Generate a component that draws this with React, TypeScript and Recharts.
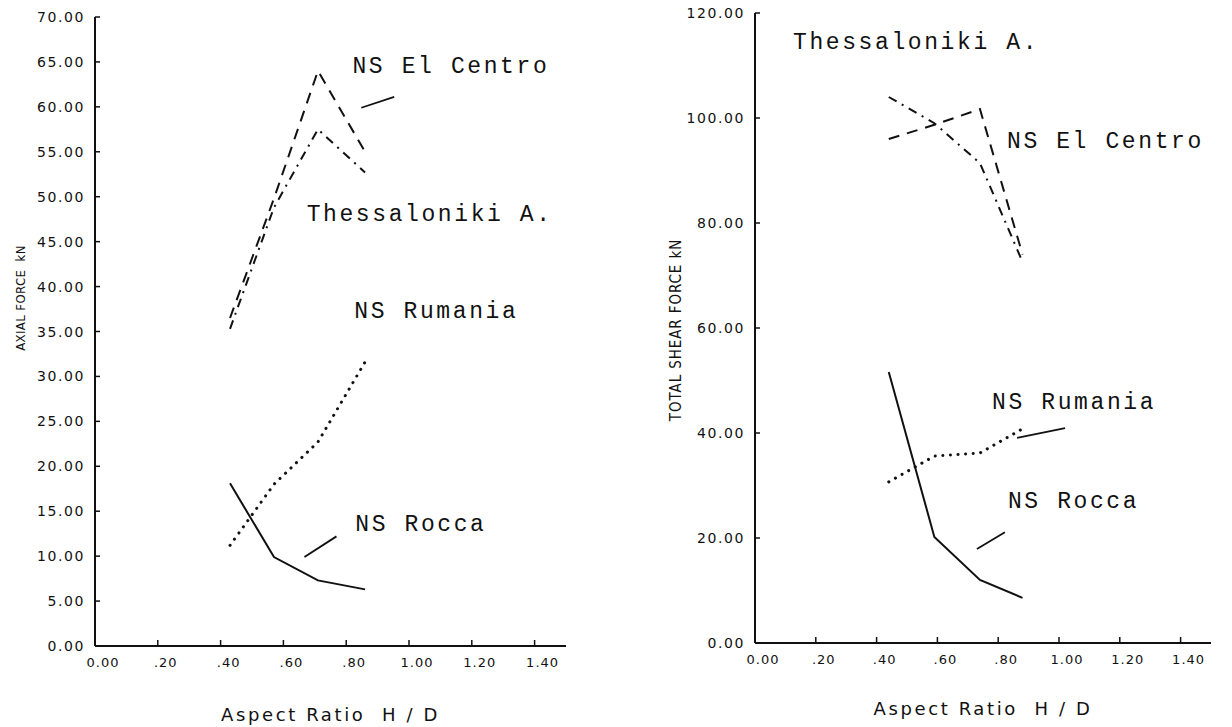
import React from 'react';
import { LineChart, Line, XAxis, YAxis, ReferenceLine, ReferenceDot } from 'recharts';

// ---------- data ----------
const leftX = [0.43, 0.57, 0.71, 0.86];
const leftElCentro = [36.5, 49.8, 64.0, 55.0];
const leftThess = [35.3, 48.8, 57.5, 52.7];
const leftRumania = [11.2, 18.0, 22.7, 31.6];
const leftRocca = [18.1, 9.9, 7.3, 6.3];

const rightX = [0.44, 0.59, 0.74, 0.88];
const rightElCentro = [96.0, 98.7, 101.7, 74.0];
const rightThess = [104.0, 99.0, 91.4, 72.6];
const rightRumania = [30.7, 35.6, 36.2, 40.8];
const rightRocca = [51.6, 20.2, 12.0, 8.6];

const xTicks = [0, 0.2, 0.4, 0.6, 0.8, 1.0, 1.2, 1.4];
const xTickLabels = ['0.00', '.20', '.40', '.60', '.80', '1.00', '1.20', '1.40'];
const leftYTicks = [0, 5, 10, 15, 20, 25, 30, 35, 40, 45, 50, 55, 60, 65, 70];
const leftYTickLabels = ['0.00', '5.00', '10.00', '15.00', '20.00', '25.00', '30.00', '35.00', '40.00', '45.00', '50.00', '55.00', '60.00', '65.00', '70.00'];
const rightYTicks = [0, 20, 40, 60, 80, 100, 120];
const rightYTickLabels = ['0.00', '20.00', '40.00', '60.00', '80.00', '100.00', '120.00'];

const xTitle = 'Aspect Ratio  H / D';
const leftYTitle = 'AXIAL FORCE  kN';
const rightYTitle = 'TOTAL SHEAR FORCE kN';

const leftNotes = [
  { text: 'NS El Centro', x: 0.82, y: 64.4 },
  { text: 'Thessaloniki A.', x: 0.674, y: 48.0 },
  { text: 'NS Rumania', x: 0.826, y: 37.2 },
  { text: 'NS Rocca', x: 0.829, y: 13.5 },
];
const leftLeaders = [
  [{ x: 0.848, y: 59.9 }, { x: 0.953, y: 61.1 }],
  [{ x: 0.667, y: 9.9 }, { x: 0.769, y: 12.2 }],
];
const rightNotes = [
  { text: 'Thessaloniki A.', x: 0.125, y: 114.3 },
  { text: 'NS El Centro', x: 0.829, y: 95.4 },
  { text: 'NS Rumania', x: 0.78, y: 45.7 },
  { text: 'NS Rocca', x: 0.832, y: 26.9 },
];
const rightLeaders = [
  [{ x: 0.862, y: 39.05 }, { x: 1.02, y: 40.95 }],
  [{ x: 0.73, y: 17.9 }, { x: 0.822, y: 21.1 }],
];

const buildRows = (xs: number[], a: number[], b: number[], c: number[], d: number[]) =>
  xs.map((x, i) => ({ x, elCentro: a[i], thess: b[i], rumania: c[i], rocca: d[i] }));

const leftData = buildRows(leftX, leftElCentro, leftThess, leftRumania, leftRocca);
const rightData = buildRows(rightX, rightElCentro, rightThess, rightRumania, rightRocca);

// ---------- styles ----------
const INK = '#111';
const TICK_FONT = '"DejaVu Sans", sans-serif';
const NOTE_FONT = '"Liberation Mono", "DejaVu Sans Mono", monospace';
const PRE = { whiteSpace: 'pre' as const };

const makeBottomTick = (labels: string[]) => (props: any) => {
  const { x, y, index } = props;
  return (
    <g>
      <line x1={x} y1={y} x2={x} y2={y - 6} stroke={INK} strokeWidth={1.5} />
      <text x={x + 8} y={y + 16} textAnchor="middle" dominantBaseline="central"
        fontFamily={TICK_FONT} fontSize={13} fill={INK} letterSpacing={1}>
        {labels[index]}
      </text>
    </g>
  );
};

const makeLeftTick = (labels: string[]) => (props: any) => {
  const { x, y, index } = props;
  return (
    <g>
      <line x1={x} y1={y} x2={x + 5} y2={y} stroke={INK} strokeWidth={1.5} />
      <text x={x - 10} y={y} textAnchor="end" dominantBaseline="central"
        fontFamily={TICK_FONT} fontSize={14} fill={INK} letterSpacing={1.6}>
        {labels[index]}
      </text>
    </g>
  );
};

const TopTick = (props: any) => {
  const { x, y } = props;
  return <line x1={x} y1={y} x2={x} y2={y + 6} stroke={INK} strokeWidth={1.5} />;
};

const noteShape = (text: string) => (p: any) => (
  <text x={p.cx} y={p.cy} dominantBaseline="central" fontFamily={NOTE_FONT}
    fontSize={23} letterSpacing={2.6} fill={INK} style={PRE}>
    {text}
  </text>
);

const xTitleLabel = (dy: number) => (props: any) => {
  const vb = props.viewBox || {};
  const cx = vb.x + vb.width / 2;
  const cy = vb.y + dy;
  return (
    <text x={cx} y={cy} textAnchor="middle" dominantBaseline="central"
      fontFamily={TICK_FONT} fontSize={18} letterSpacing={2.6} fill={INK} style={PRE}>
      {xTitle}
    </text>
  );
};

const yTitleLabel = (text: string, cx: number, cy: number, size: number, spacing: number) => () => (
  <text x={cx} y={cy} textAnchor="middle" dominantBaseline="central"
    transform={`rotate(-90, ${cx}, ${cy})`}
    fontFamily='"DejaVu Sans Condensed", "DejaVu Sans", sans-serif'
    fontSize={size} letterSpacing={spacing} fill={INK} style={PRE}>
    {text}
  </text>
);

const axisLineStyle = { stroke: INK, strokeWidth: 2 };

export default function App() {
  return (
    <div style={{ position: 'absolute', left: 0, top: 0, width: 1232, height: 727, overflow: 'hidden', background: '#fff' }}>
      {/* Left chart */}
      <div style={{ position: 'absolute', left: 0, top: 0 }}>
        <LineChart width={600} height={727} data={leftData}
          margin={{ top: 17, right: 34, left: 35, bottom: 41 }}>
          <XAxis dataKey="x" type="number" domain={[0, 1.5]} ticks={xTicks}
            allowDataOverflow tickSize={0} tickMargin={0} height={40}
            axisLine={axisLineStyle} tickLine={false}
            tick={makeBottomTick(xTickLabels)} interval={0}
            label={xTitleLabel(68)} />
          <XAxis xAxisId="top" orientation="top" type="number" domain={[0, 1.5]}
            height={0} tick={false} tickLine={false} axisLine={axisLineStyle} />
          <YAxis type="number" domain={[0, 70]} ticks={leftYTicks} width={60}
            allowDataOverflow tickSize={0} tickMargin={0}
            axisLine={axisLineStyle} tickLine={false} interval={0}
            tick={makeLeftTick(leftYTickLabels)}
            label={yTitleLabel(leftYTitle, 20, 298, 13, 0.4)} />
          <YAxis yAxisId="r" orientation="right" type="number" domain={[0, 70]}
            width={0} tick={false} tickLine={false} axisLine={axisLineStyle} />
          <Line dataKey="elCentro" stroke={INK} strokeWidth={2} strokeDasharray="11 8"
            dot={false} isAnimationActive={false} />
          <Line dataKey="thess" stroke={INK} strokeWidth={2} strokeDasharray="9 6 2 6"
            dot={false} isAnimationActive={false} />
          <Line dataKey="rumania" stroke={INK} strokeWidth={3} strokeDasharray="0.1 7.5"
            strokeLinecap="round" dot={false} isAnimationActive={false} />
          <Line dataKey="rocca" stroke={INK} strokeWidth={2}
            dot={false} isAnimationActive={false} />
          {leftLeaders.map((seg, i) => (
            <ReferenceLine key={'ll' + i} segment={seg} stroke={INK} strokeWidth={1.8} ifOverflow="visible" />
          ))}
          {leftNotes.map((n, i) => (
            <ReferenceDot key={'ln' + i} x={n.x} y={n.y} r={0} ifOverflow="visible" shape={noteShape(n.text)} />
          ))}
        </LineChart>
      </div>

      {/* Right chart */}
      <div style={{ position: 'absolute', left: 640, top: 0 }}>
        <LineChart width={592} height={727} data={rightData}
          margin={{ top: 13, right: 21, left: 55, bottom: 44 }}>
          <XAxis dataKey="x" type="number" domain={[0, 1.5]} ticks={xTicks}
            allowDataOverflow tickSize={0} tickMargin={0} height={40}
            axisLine={axisLineStyle} tickLine={false}
            tick={makeBottomTick(xTickLabels)} interval={0}
            label={xTitleLabel(65)} />
          <XAxis xAxisId="top" orientation="top" type="number" domain={[0, 1.5]}
            ticks={xTicks} height={0} tickSize={0} tickMargin={0} interval={0}
            tick={TopTick} tickLine={false} axisLine={axisLineStyle} />
          <YAxis type="number" domain={[0, 120]} ticks={rightYTicks} width={60}
            allowDataOverflow tickSize={0} tickMargin={0}
            axisLine={axisLineStyle} tickLine={false} interval={0}
            tick={makeLeftTick(rightYTickLabels)}
            label={yTitleLabel(rightYTitle, 36, 330, 15, 0.9)} />
          <YAxis yAxisId="r" orientation="right" type="number" domain={[0, 120]}
            width={0} tick={false} tickLine={false} axisLine={axisLineStyle} />
          <Line dataKey="elCentro" stroke={INK} strokeWidth={2} strokeDasharray="11 8"
            dot={false} isAnimationActive={false} />
          <Line dataKey="thess" stroke={INK} strokeWidth={2} strokeDasharray="9 6 2 6"
            dot={false} isAnimationActive={false} />
          <Line dataKey="rumania" stroke={INK} strokeWidth={3} strokeDasharray="0.1 7.5"
            strokeLinecap="round" dot={false} isAnimationActive={false} />
          <Line dataKey="rocca" stroke={INK} strokeWidth={2}
            dot={false} isAnimationActive={false} />
          {rightLeaders.map((seg, i) => (
            <ReferenceLine key={'rl' + i} segment={seg} stroke={INK} strokeWidth={1.8} ifOverflow="visible" />
          ))}
          {rightNotes.map((n, i) => (
            <ReferenceDot key={'rn' + i} x={n.x} y={n.y} r={0} ifOverflow="visible" shape={noteShape(n.text)} />
          ))}
        </LineChart>
      </div>
    </div>
  );
}
